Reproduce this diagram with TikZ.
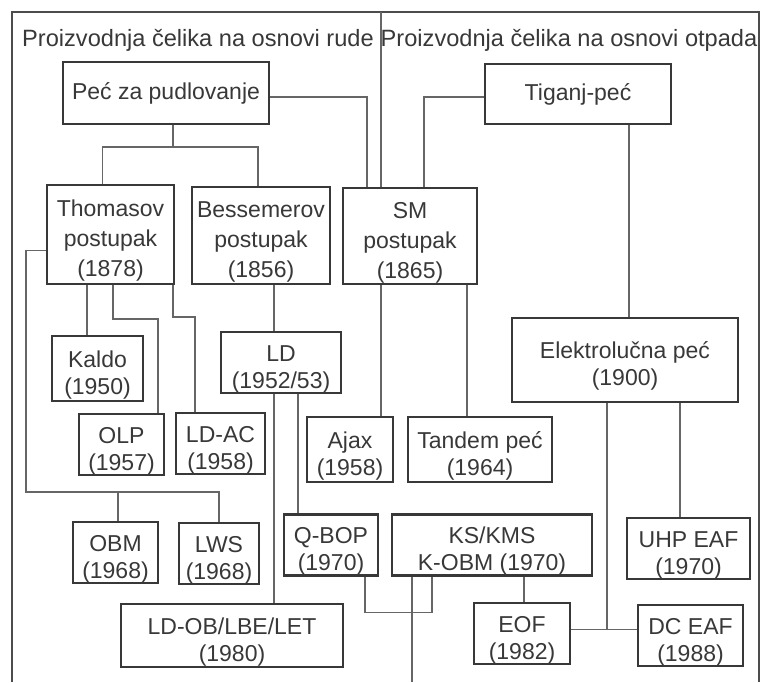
\documentclass[tikz,border=0pt]{standalone}
\usepackage{fontspec}
\setmainfont{Liberation Sans}
\newcommand{\boxstrut}{\rule{0pt}{29pt}}
\begin{document}
\begin{tikzpicture}[x=1pt, y=-1pt]
        \tikzstyle{box}=[rectangle, draw=black!78, line width=2.3pt, align=center, text=black!78, font=\fontsize{23}{27}\selectfont, inner sep=0pt]
        \tikzstyle{tall}=[font=\fontsize{23}{30}\selectfont]
        \tikzstyle{title}=[text=black!78, font=\fontsize{23.6}{28}\selectfont, inner sep=0pt]
        \tikzstyle{link}=[draw=black!60, line width=1.6pt]

        \useasboundingbox (0,0) rectangle (767,682);

        % Frame
        \draw [black!70, line width=2pt] (12,682) -- (12,12) -- (759,12) -- (759,682);
        \coordinate (divide) at (381,12);

        % Titles
        \draw node at (198,40) [title] (title_ore) {Proizvodnja čelika na osnovi rude};
        \draw node at (569,40) [title] (title_scrap) {Proizvodnja čelika na osnovi otpada};

        % First row
        \draw node at (166,93) [box, minimum width=206pt, minimum height=62pt] (pudl) {Peć za pudlovanje};
        \draw node at (578,94) [box, minimum width=186pt, minimum height=60pt] (tigan) {Tiganj-peć};

        % Second row
        \draw node at (110.5,234.5) [box, tall, minimum width=127pt, minimum height=99pt] (thomas) {\boxstrut Thomasov\\postupak\\(1878)};
        \draw node at (261,235.5) [box, tall, minimum width=138pt, minimum height=97pt] (bessemer) {\boxstrut Bessemerov\\postupak\\(1856)};
        \draw node at (410,236) [box, tall, minimum width=134pt, minimum height=96pt] (sm) {\boxstrut SM\\postupak\\(1865)};

        % Third row
        \draw node at (97.5,368.5) [box, minimum width=91pt, minimum height=65pt] (kaldo) {\boxstrut Kaldo\\(1950)};
        \draw node at (281,362.5) [box, minimum width=120pt, minimum height=61pt] (ld) {\boxstrut LD\\(1952/53)};
        \draw node at (625,360) [box, minimum width=226pt, minimum height=84pt] (elektro) {\boxstrut Elektrolučna peć\\(1900)};

        % Fourth row
        \draw node at (121.5,444.5) [box, minimum width=85pt, minimum height=59pt] (olp) {\boxstrut OLP\\(1957)};
        \draw node at (220.5,443.5) [box, minimum width=89pt, minimum height=57pt] (ldac) {\boxstrut LD-AC\\(1958)};
        \draw node at (350,449.5) [box, minimum width=86pt, minimum height=65pt] (ajax) {\boxstrut Ajax\\(1958)};
        \draw node at (480,449.5) [box, minimum width=144pt, minimum height=65pt] (tandem) {\boxstrut Tandem peć\\(1964)};

        % Fifth row
        \draw node at (115.5,552.5) [box, minimum width=85pt, minimum height=59pt] (obm) {\boxstrut OBM\\(1968)};
        \draw node at (219,553.5) [box, minimum width=80pt, minimum height=61pt] (lws) {\boxstrut LWS\\(1968)};
        \draw node at (331,545) [box, minimum width=94pt, minimum height=58pt] (qbop) {\boxstrut Q-BOP\\(1970)};
        \draw node at (492,545) [box, minimum width=200pt, minimum height=58pt] (ks) {\boxstrut KS/KMS\\K-OBM (1970)};
        \draw node at (688.5,548.5) [box, minimum width=123pt, minimum height=59pt] (uhp) {\boxstrut UHP EAF\\(1970)};

        % Last row
        \draw node at (232,635.5) [box, minimum width=222pt, minimum height=63pt] (ldob) {\boxstrut LD-OB/LBE/LET\\(1980)};
        \draw node at (522,633.5) [box, minimum width=96pt, minimum height=59pt] (eof) {\boxstrut EOF\\(1982)};
        \draw node at (690.5,635.5) [box, minimum width=105pt, minimum height=57pt] (dc) {\boxstrut DC EAF\\(1988)};
        \coordinate (ks_out) at (412,682);
        \coordinate (thomas_bend) at (26,492);

        % Peć za pudlovanje -> converters
        \draw [link] ([xshift=7pt]pudl.south) -- ++(0,22) coordinate (pudl_split);
        \draw [link] (pudl_split) -| ([xshift=-8pt]thomas.north);
        \draw [link] (pudl_split) -| ([xshift=-3pt]bessemer.north);
        \draw [link] ([yshift=-4pt]pudl.east) -| ([xshift=-43pt]sm.north);

        % Tiganj-peć -> SM, EAF
        \draw [link] (divide) -- (divide |- sm.north);
        \draw [link] ([yshift=-3pt]tigan.west) -| ([xshift=14pt]sm.north);
        \draw [link] ([xshift=51pt]tigan.south) -- ([xshift=51pt]tigan.south |- elektro.north);

        % Thomasov postupak
        \draw [link] ([yshift=-16pt]thomas.west) -| (thomas_bend) -| (lws.north);
        \draw [link] ([xshift=2.5pt]obm.north) -- ([xshift=2.5pt]obm.north |- thomas_bend);
        \draw [link] ([xshift=-23.5pt]thomas.south) -- ([xshift=-23.5pt]thomas.south |- kaldo.north);
        \draw [link] ([xshift=2.5pt]thomas.south) -- ++(0,34) -| ([xshift=36.5pt]olp.north);
        \draw [link] ([xshift=-2pt]thomas.south east) -- ++(0,32) -| ([xshift=-25.5pt]ldac.north);

        % Bessemerov postupak -> LD
        \draw [link] ([xshift=13pt]bessemer.south) -- ([xshift=13pt]bessemer.south |- ld.north);
        \draw [link] ([xshift=17pt]ld.south) -- ([xshift=17pt]ld.south |- qbop.north);
        \draw [link] ([xshift=-7pt]ld.south) -- ([xshift=-7pt]ld.south |- ldob.north);

        % SM postupak
        \draw [link] ([xshift=-29pt]sm.south) -- ([xshift=-29pt]sm.south |- ajax.north);
        \draw [link] ([xshift=57pt]sm.south) -- ([xshift=57pt]sm.south |- tandem.north);

        % Q-BOP -> KS/KMS -> EOF
        \draw [link] ([xshift=34pt]qbop.south) -- ++(0,36) -| ([xshift=-60pt]ks.south);
        \draw [link] ([xshift=32pt]ks.south) -- ([xshift=32pt]ks.south |- eof.north);
        \draw [link] ([xshift=-80pt]ks.south) -- (ks_out);

        % Elektrolučna peć
        \draw [link] ([xshift=55pt]elektro.south) -- ([xshift=55pt]elektro.south |- uhp.north);
        \draw [link] ([xshift=-18pt]elektro.south) |- ([yshift=4pt]eof.east);
        \draw [link] ([yshift=4pt]eof.east) -- ([yshift=4pt]eof.east -| dc.west);

    \end{tikzpicture}
\end{document}
